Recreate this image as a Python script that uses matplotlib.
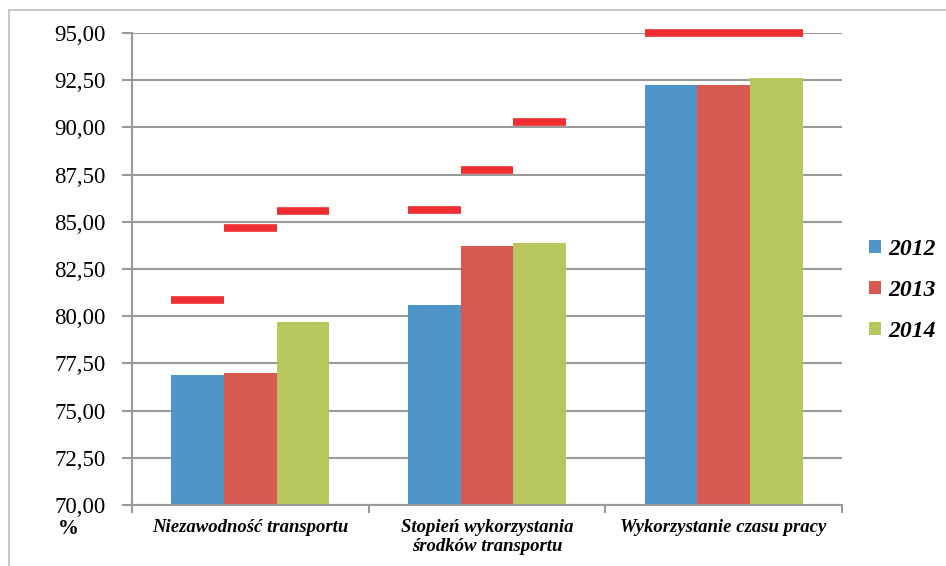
import matplotlib
matplotlib.use("Agg")
import matplotlib.pyplot as plt
import numpy as np
from matplotlib.patches import Rectangle

# ── data ────────────────────────────────────────────────────────────────
categories = ["Niezawodność transportu",
              "Stopień wykorzystania\nśrodków transportu",
              "Wykorzystanie czasu pracy"]
years = ["2012", "2013", "2014"]
values_2012 = [76.90, 80.58, 92.23]
values_2013 = [76.99, 83.72, 92.23]
values_2014 = [79.69, 83.88, 92.60]
targets_2012 = [80.88, 85.60, 95.00]
targets_2013 = [84.67, 87.74, 95.00]
targets_2014 = [85.57, 90.29, 95.00]
yticks = [70.0, 72.5, 75.0, 77.5, 80.0, 82.5, 85.0, 87.5, 90.0, 92.5, 95.0]

# ── style ───────────────────────────────────────────────────────────────
COLORS = ["#4E95C9", "#D85852", "#B8C75D"]
TARGET_COLOR = "#EE2E31"
GRID = "#9A9A9A"
plt.rcParams["font.family"] = "serif"
plt.rcParams["font.serif"] = ["Liberation Serif", "DejaVu Serif"]

fig = plt.figure(figsize=(9.46, 5.66), dpi=100)
# outer chart border (cut off at right/bottom like the source)
fig.add_artist(Rectangle((9 / 946, -0.1), 1.2, (566 - 10) / 566 + 0.1,
                         transform=fig.transFigure, fill=False,
                         edgecolor="#BDBDBD", lw=1.2))

ax = fig.add_axes([132 / 946, (566 - 505) / 566, 710 / 946, 472 / 566])

x = np.arange(len(categories))
w = 1 / 4.5
series = [values_2012, values_2013, values_2014]
targets = [targets_2012, targets_2013, targets_2014]
for i, (vals, tg) in enumerate(zip(series, targets)):
    xs = x + (i - 1) * w
    ax.bar(xs, np.array(vals) - 70, bottom=70, width=w, color=COLORS[i],
           label=years[i], zorder=2)
    ax.hlines(tg, xs - w / 2, xs + w / 2, colors=TARGET_COLOR, lw=5.5,
              zorder=3, clip_on=False)

ax.set_xlim(-0.5, 2.5)
ax.set_ylim(70, 95)
ax.set_yticks(yticks)
ax.set_yticklabels([f"{v:.2f}".replace(".", ",") for v in yticks],
                   fontsize=16.5)
ax.yaxis.grid(True, color=GRID, lw=1.5, zorder=0)
ax.set_axisbelow(True)
ax.tick_params(axis="y", length=7, width=1.5, color=GRID, pad=12)

ax.set_xticks(x)
ax.set_xticklabels(categories, fontsize=13.5, fontstyle="italic",
                   fontweight="bold", linespacing=1.15)
ax.tick_params(axis="x", length=0, pad=10)
ax.set_xticks([-0.5, 0.5, 1.5, 2.5], minor=True)
ax.tick_params(axis="x", which="minor", length=6, width=1.5, color=GRID)

for s in ["top", "right"]:
    ax.spines[s].set_visible(False)
for s in ["left", "bottom"]:
    ax.spines[s].set_color(GRID)
    ax.spines[s].set_linewidth(1.5)

fig.text(68 / 946, 1 - 529 / 566, "%", fontsize=15, fontweight="bold",
         ha="center", va="center")

ax.legend(loc="center left", bbox_to_anchor=(1.025, 0.455), frameon=False,
          prop={"size": 17, "style": "italic", "weight": "bold"},
          handlelength=0.5, handleheight=0.5, handletextpad=0.3,
          labelspacing=0.85, borderaxespad=0)

fig.savefig("out.png", dpi=100)
